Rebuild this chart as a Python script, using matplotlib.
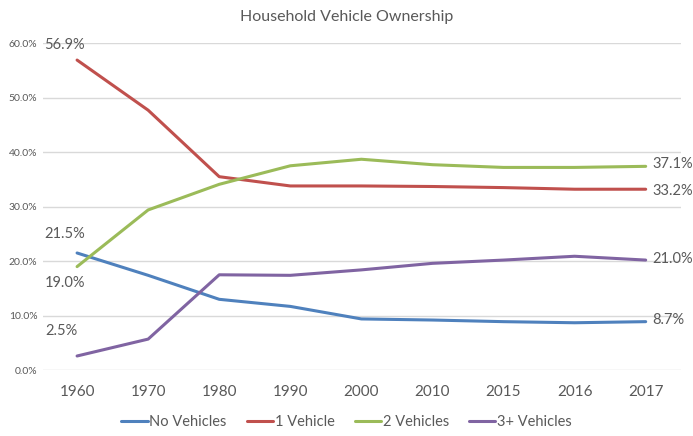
import matplotlib.pyplot as plt
import numpy as np

years = ['1960', '1970', '1980', '1990', '2000', '2010', '2015', '2016', '2017']
no_veh = [21.5, 17.4, 13.0, 11.7, 9.4, 9.2, 8.9, 8.7, 8.9]
one_veh = [56.9, 47.7, 35.5, 33.8, 33.8, 33.7, 33.5, 33.2, 33.2]
two_veh = [19.0, 29.4, 34.1, 37.5, 38.7, 37.7, 37.2, 37.2, 37.4]
three_veh = [2.6, 5.7, 17.5, 17.4, 18.4, 19.6, 20.2, 20.9, 20.2]

series_names = ['No Vehicles', '1 Vehicle', '2 Vehicles', '3+ Vehicles']
first_labels = ['21.5%', '56.9%', '19.0%', '2.5%']
last_labels = ['8.7%', '33.2%', '37.1%', '21.0%']

colors = ['#4F81BD', '#C0504D', '#9BBB59', '#8064A2']
txt = '#595959'

plt.rcParams['font.family'] = ['Lato', 'DejaVu Sans']

fig = plt.figure(figsize=(6.93, 4.36), dpi=100)
ax = fig.add_axes([0.062, 0.151, 0.921, 0.750])

x = np.arange(len(years))
data = [no_veh, one_veh, two_veh, three_veh]
for vals, name, c in zip(data, series_names, colors):
    ax.plot(x, np.array(vals) / 100, color=c, lw=2.2, label=name,
            solid_capstyle='round', solid_joinstyle='round')

# data labels at both ends
first_offsets = [(-9, 13.5), (-9, 11), (-9, -12), (-11.5, 18)]
for vals, lab, off in zip(data, first_labels, first_offsets):
    ax.annotate(lab, (0, vals[0] / 100), xytext=off, textcoords='offset points',
                ha='center', va='center', fontsize=10.5, color=txt)
last_offsets = [(5, 1), (5, -1), (5, 2), (5, 1)]
for vals, lab, off in zip(data, last_labels, last_offsets):
    ax.annotate(lab, (x[-1], vals[-1] / 100), xytext=off, textcoords='offset points',
                ha='left', va='center', fontsize=10.5, color=txt, annotation_clip=False)

ax.set_xlim(-0.48, 8.5)
ax.set_ylim(0, 0.6)
ax.set_yticks(np.arange(0, 0.61, 0.1))
ax.set_yticklabels(['%.1f%%' % (v * 100) for v in np.arange(0, 0.61, 0.1)],
                   fontsize=7.5, color=txt)
ax.set_xticks(x)
ax.set_xticklabels(years, fontsize=11, color=txt)
ax.tick_params(length=0)
ax.tick_params(axis='x', pad=11)
ax.tick_params(axis='y', pad=4)
ax.grid(axis='y', color='#D9D9D9', lw=1)
ax.set_axisbelow(True)
for s in ax.spines.values():
    s.set_visible(False)

fig.text(0.5, 1 - 17 / 436, 'Household Vehicle Ownership', fontsize=11.5,
         color=txt, ha='center', va='center')

fig.legend(loc='center', ncol=4, frameon=False, fontsize=10.5,
           bbox_to_anchor=(0.5, 1 - 422 / 436), handlelength=1.8, handletextpad=0.1,
           columnspacing=1.4, labelcolor=txt)

fig.savefig('out.png', dpi=100)
